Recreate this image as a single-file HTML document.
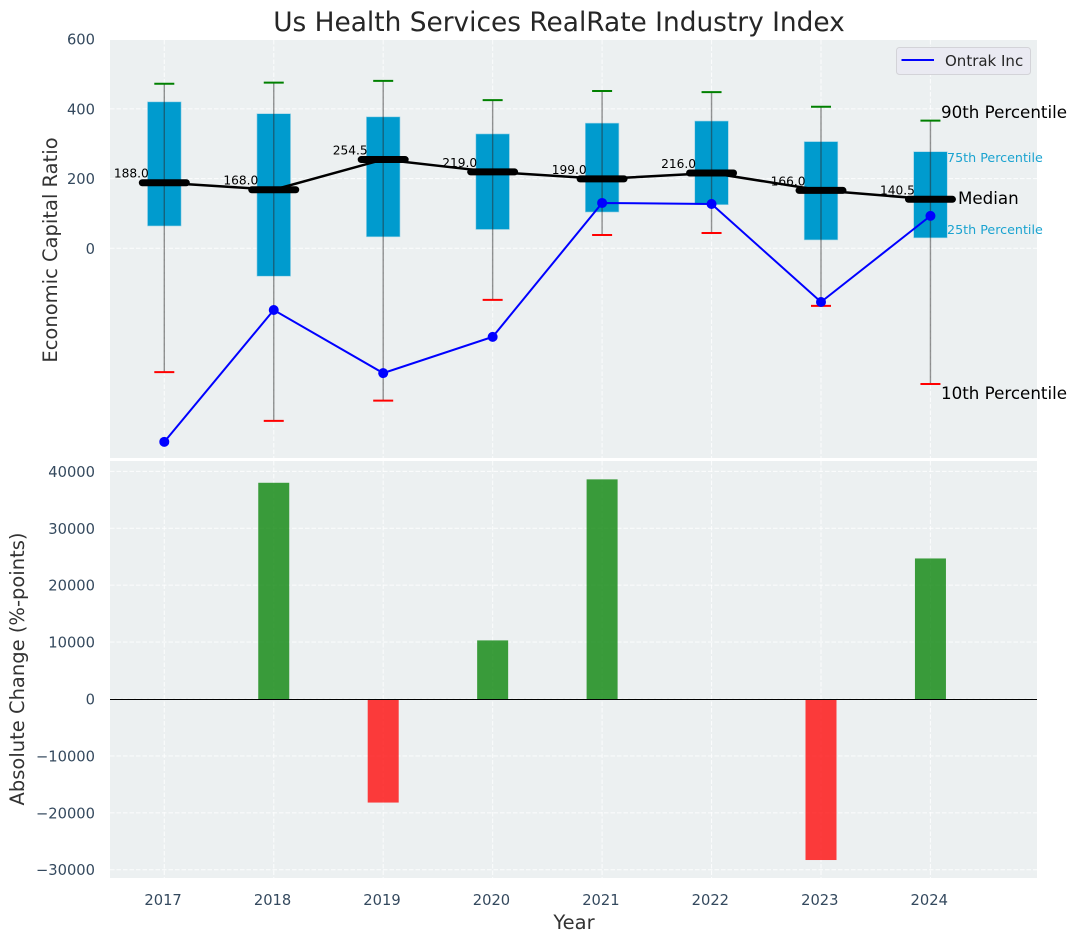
<!DOCTYPE html>
<html>
<head>
<meta charset="utf-8">
<title>Us Health Services RealRate Industry Index</title>
<style>
html,body{margin:0;padding:0;background:#fff;width:1076px;height:942px;overflow:hidden}
svg{display:block;font-family:"DejaVu Sans","Liberation Sans",sans-serif}
</style>
</head>
<body>
<svg id="chart" xmlns="http://www.w3.org/2000/svg" width="1076" height="942" viewBox="0 0 1076 942">
  <rect x="110" y="40" width="927" height="418" fill="#ecf0f1"/>
  <rect x="110" y="461" width="927" height="417" fill="#ecf0f1"/>
  <g id="grid"></g>
  <g id="bars"></g>
  <g id="boxes"></g>
  <g id="axes"></g>
  <text x="559" y="31" text-anchor="middle" font-size="26.4" fill="#262626">Us Health Services RealRate Industry Index</text>
  <text transform="translate(57,250) rotate(-90)" text-anchor="middle" font-size="19.5" fill="#333333">Economic Capital Ratio</text>
  <text transform="translate(24,669) rotate(-90)" text-anchor="middle" font-size="19.5" fill="#333333">Absolute Change (%-points)</text>
  <text x="574" y="929" text-anchor="middle" font-size="19.5" fill="#333333">Year</text>
  <g>
    <rect x="896.5" y="47.5" width="134" height="27" rx="3" fill="#eaeaf2" stroke="#d3d3d8"/>
    <line x1="901.5" y1="60" x2="934" y2="60" stroke="#0000ff" stroke-width="2"/>
    <text x="945" y="66" font-size="15" fill="#262626">Ontrak Inc</text>
  </g>
  <text x="941" y="118" font-size="16.7" fill="#000">90th Percentile</text>
  <text x="947" y="162" font-size="12.7" fill="#1ba3d0">75th Percentile</text>
  <text x="958" y="204" font-size="16.7" fill="#000">Median</text>
  <text x="947" y="234" font-size="12.7" fill="#1ba3d0">25th Percentile</text>
  <text x="941" y="399" font-size="16.7" fill="#000">10th Percentile</text>
</svg>
<script>
const years = [2017, 2018, 2019, 2020, 2021, 2022, 2023, 2024];
const p90 = [472, 475, 480, 425, 451, 448, 406, 366];
const p75 = [420, 386, 377, 328, 359, 365, 306, 277];
const medians = [188.0, 168.0, 254.5, 219.0, 199.0, 216.0, 166.0, 140.5];
const p25 = [64, -80, 33, 54, 104, 125, 24, 30];
const p10 = [-355, -495, -437, -148, 38, 44, -165, -389];
const ontrak = [-555, -177, -358, -254, 130, 127, -154, 93];
const changes = [0, 38000, -18200, 10300, 38600, 0, -28300, 24700];
const topTicks = [0, 200, 400, 600];
const bottomTicks = [40000, 30000, 20000, 10000, 0, -10000, -20000, -30000];

const NS = 'http://www.w3.org/2000/svg';
const xScale = function (year) { return 164.3 + (year - 2017) * 109.45; };
const yTop = function (v) { return 248.3 - v * 0.3487; };
const yBottom = function (v) { return 699 - v * 0.00569; };
function make(parent, tag, attrs, content) {
  const el = document.createElementNS(NS, tag);
  Object.keys(attrs).forEach(function (k) { el.setAttribute(k, attrs[k]); });
  if (content !== undefined) el.textContent = content;
  parent.appendChild(el);
  return el;
}
const gridG = document.getElementById('grid');
const barsG = document.getElementById('bars');
const boxesG = document.getElementById('boxes');
const axesG = document.getElementById('axes');
const gridStyle = { stroke: '#ffffff', 'stroke-width': 1.1, 'stroke-dasharray': '4.5 2', 'stroke-opacity': 0.75 };
const tickSize = 14.7;

years.forEach(function (year) {
  const xv = xScale(year);
  const g1 = make(gridG, 'line', Object.assign({ x1: xv, x2: xv, y1: 40, y2: 458 }, gridStyle));
  
  
  const g2 = make(gridG, 'line', Object.assign({ x1: xv, x2: xv, y1: 461, y2: 878 }, gridStyle));
  
  
  const lab = make(axesG, 'text', { x: xv - 1.2, y: 905, 'text-anchor': 'middle', 'font-size': tickSize, fill: '#34495e' }, String(year));
  
  
});
topTicks.forEach(function (t) {
  const yv = yTop(t);
  const g = make(gridG, 'line', Object.assign({ x1: 110, x2: 1037, y1: yv, y2: yv }, gridStyle));
  
  
  const lab = make(axesG, 'text', { x: 95, y: yv + 5.5, 'text-anchor': 'end', 'font-size': tickSize, fill: '#34495e' }, String(t));
  
  
});
bottomTicks.forEach(function (t) {
  const yv = yBottom(t);
  const g = make(gridG, 'line', Object.assign({ x1: 110, x2: 1037, y1: yv, y2: yv }, gridStyle));
  
  
  const lab = make(axesG, 'text', { x: 95, y: yv + 5.5, 'text-anchor': 'end', 'font-size': tickSize, fill: '#34495e' }, String(t).replace('-', '\u2212'));
  
  
});

changes.forEach(function (c, i) {
  if (!c) return;
  const xv = xScale(years[i]);
  const y0 = yBottom(0), y1 = yBottom(c);
  const bar = make(barsG, 'rect', {
    x: xv - 15.5, width: 31, y: Math.min(y0, y1), height: Math.abs(y1 - y0),
    fill: c > 0 ? '#008000' : '#ff0000', 'fill-opacity': 0.76
  });
  
  
});
const zero = make(barsG, 'line', { x1: 110, x2: 1037, y1: yBottom(0) + 0.5, y2: yBottom(0) + 0.5, stroke: '#000', 'stroke-width': 1 });



years.forEach(function (year, i) {
  const xv = xScale(year);
  const top = yTop(p75[i]), bottom = yTop(p25[i]);
  const box = make(boxesG, 'rect', { x: xv - 16.8, y: top, width: 33.6, height: bottom - top, fill: '#009bce', stroke: '#9fd3e6', 'stroke-width': 0.6 });
  
  
  const whisker = make(boxesG, 'line', { x1: xv, x2: xv, y1: yTop(p90[i]), y2: yTop(p10[i]), stroke: '#2a2a2a', 'stroke-opacity': 0.5, 'stroke-width': 1.4 });
  
  
  const capTop = make(boxesG, 'line', { x1: xv - 10, x2: xv + 10, y1: yTop(p90[i]), y2: yTop(p90[i]), stroke: '#008000', 'stroke-width': 2 });
  
  
  const capBottom = make(boxesG, 'line', { x1: xv - 10, x2: xv + 10, y1: yTop(p10[i]), y2: yTop(p10[i]), stroke: '#ff0000', 'stroke-width': 2 });
  
  
});

const medianPts = years.map(function (y, i) { return xScale(y) + ',' + yTop(medians[i]); }).join(' ');
const medianLine = make(boxesG, 'polyline', { points: medianPts, fill: 'none', stroke: '#000', 'stroke-width': 2.5 });


years.forEach(function (year, i) {
  const xv = xScale(year), yv = yTop(medians[i]);
  const bar = make(boxesG, 'line', { x1: xv - 22, x2: xv + 22, y1: yv, y2: yv, stroke: '#000', 'stroke-width': 7, 'stroke-linecap': 'round' });
  
  
  const lab = make(boxesG, 'text', { x: xv - 15.5, y: yv - 5, 'text-anchor': 'end', 'font-size': 12.2, fill: '#000' }, medians[i].toFixed(1));
  
  
});

const ontrakPts = years.map(function (y, i) { return xScale(y) + ',' + yTop(ontrak[i]); }).join(' ');
const ontrakLine = make(boxesG, 'polyline', { points: ontrakPts, fill: 'none', stroke: '#0000ff', 'stroke-width': 2 });


years.forEach(function (year, i) {
  const pt = make(boxesG, 'circle', { cx: xScale(year), cy: yTop(ontrak[i]), r: 5, fill: '#0000ff' });
  
  
});
</script>
</body>
</html>
